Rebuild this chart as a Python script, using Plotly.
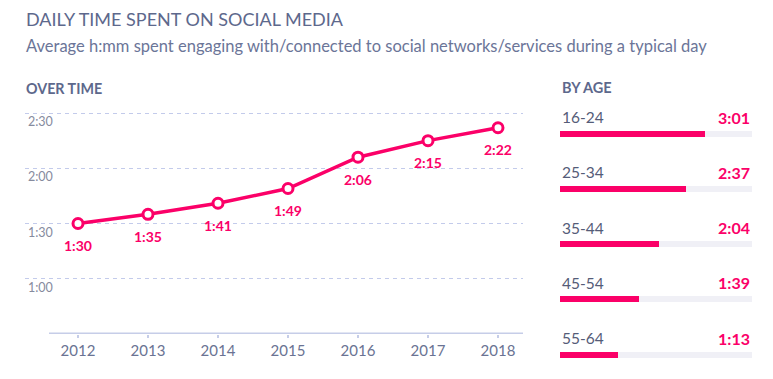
import plotly.graph_objects as go

# ---- data ----
years = [2012, 2013, 2014, 2015, 2016, 2017, 2018]
minutes_over_time = [90, 95, 101, 109, 126, 135, 142]
ytick_vals = [60, 90, 120, 150]
ytick_text = ["1:00", "1:30", "2:00", "2:30"]
age_groups = ["16-24", "25-34", "35-44", "45-54", "55-64"]
minutes_by_age = [181, 157, 124, 99, 73]
age_max = 240

PINK = "#fb0068"
OFF = 8  # page body margin
W, H = 773 - OFF, 379 - OFF
FONT = "Lato"


def hmm(m):
    return f"{m // 60}:{m % 60:02d}"


def px(x):
    return (x - OFF) / W


def py(y):
    return 1 - (y - OFF) / H


fig = go.Figure()

# line chart
fig.add_trace(go.Scatter(
    x=years, y=minutes_over_time, mode="lines+markers",
    line=dict(color=PINK, width=3.5),
    marker=dict(size=10, color="white", line=dict(color=PINK, width=3)),
    cliponaxis=False, hoverinfo="skip", showlegend=False,
    xaxis="x", yaxis="y",
))

# bars: tracks and values
fig.add_trace(go.Bar(
    x=[age_max] * len(age_groups), y=age_groups, orientation="h",
    marker=dict(color="#f0f0f6", line=dict(width=0)), width=0.11,
    hoverinfo="skip", showlegend=False, xaxis="x2", yaxis="y2",
))
fig.add_trace(go.Bar(
    x=minutes_by_age, y=age_groups, orientation="h",
    marker=dict(color=PINK, line=dict(width=0)), width=0.11,
    hoverinfo="skip", showlegend=False, xaxis="x2", yaxis="y2",
))

annotations = [
    dict(text="DAILY TIME SPENT ON SOCIAL MEDIA", x=px(24), y=py(19), xref="paper", yref="paper",
         xanchor="left", yanchor="middle", showarrow=False,
         font=dict(family=FONT, size=18, color="#5d688c")),
    dict(text="Average h:mm spent engaging with/connected to social networks/services during a typical day",
         x=px(24), y=py(46), xref="paper", yref="paper", xanchor="left", yanchor="middle", showarrow=False,
         font=dict(family=FONT, size=16.5, color="#6b7598")),
    dict(text="<b>OVER TIME</b>", x=px(24), y=py(88), xref="paper", yref="paper",
         xanchor="left", yanchor="middle", showarrow=False,
         font=dict(family=FONT, size=14.3, color="#5d688c")),
    dict(text="<b>BY AGE</b>", x=px(560), y=py(87), xref="paper", yref="paper",
         xanchor="left", yanchor="middle", showarrow=False,
         font=dict(family=FONT, size=14.5, color="#5d688c")),
]
for yr, m in zip(years, minutes_over_time):
    annotations.append(dict(text=f"<b>{hmm(m)}</b>", x=yr, y=m, xref="x", yref="y",
                            xanchor="center", yanchor="middle", yshift=-22, showarrow=False,
                            font=dict(family=FONT, size=14, color=PINK)))
for g, m in zip(age_groups, minutes_by_age):
    annotations.append(dict(text=g, x=0, y=g, xref="x2", yref="y2", xanchor="left", yanchor="middle",
                            yshift=17, showarrow=False,
                            font=dict(family=FONT, size=15.5, color="#555c78")))
    annotations.append(dict(text=f"<b>{hmm(m)}</b>", x=age_max, y=g, xref="x2", yref="y2",
                            xanchor="right", yanchor="middle", yshift=17, showarrow=False,
                            font=dict(family=FONT, size=16, color=PINK)))

shapes = [
    dict(type="line", xref="paper", yref="y", x0=px(49), x1=px(523), y0=30, y1=30,
         line=dict(color="#c6cde8", width=3), layer="below"),
]

PPM = 55 / 30  # pixels per minute on the line chart
YTOP = 153

fig.update_layout(
    width=W, height=H, margin=dict(l=0, r=0, t=0, b=0),
    paper_bgcolor="white", plot_bgcolor="white",
    barmode="overlay", bargap=0,
    font=dict(family=FONT),
    annotations=annotations, shapes=shapes,
    xaxis=dict(domain=[px(25), px(523)], range=[2012 - 53 / 70, 2012 - 53 / 70 + 498 / 70],
               tickvals=years, ticktext=[str(y) for y in years], showgrid=False, zeroline=False,
               showline=False, ticks="outside", ticklen=3, tickwidth=2, tickcolor="#c6cde8",
               tickfont=dict(family=FONT, size=15, color="#6a7393"), fixedrange=True),
    yaxis=dict(domain=[py(334), py(113 - (YTOP - 150) * PPM)], range=[30, YTOP],
               tickvals=ytick_vals, ticktext=ytick_text,
               ticklabelposition="inside bottom", showgrid=True, gridcolor="#c3cbeb", gridwidth=1,
               griddash="4px,4px", zeroline=False, showline=False,
               tickfont=dict(family=FONT, size=12.5, color="#868b9e"), fixedrange=True),
    xaxis2=dict(domain=[px(560), px(752)], range=[0, age_max], visible=False, fixedrange=True),
    yaxis2=dict(domain=[py(371.6), py(106.4)], type="category", categoryorder="array",
                categoryarray=age_groups, range=[4.3, -0.5], visible=False, fixedrange=True),
)

fig.write_html("out.html")
